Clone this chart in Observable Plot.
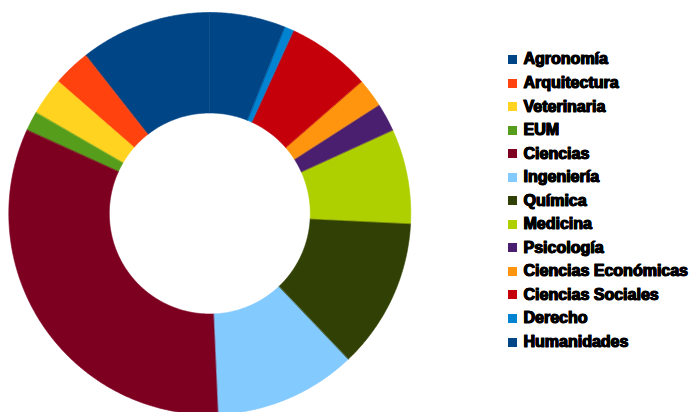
<!DOCTYPE html>
<html>
<head>
<meta charset="utf-8">
<script src="https://cdn.jsdelivr.net/npm/d3@7"></script>
<script src="https://cdn.jsdelivr.net/npm/@observablehq/plot@0.6"></script>
<style>
  html, body { margin: 0; padding: 0; background: #fff; }
  #wrap { position: relative; width: 691px; height: 412px; overflow: hidden; }
  #wrap > svg { position: absolute; left: 0; top: 0; }
  #legend { position: absolute; left: 508px; top: 47.7px; }
  #legend .lg-swatches { margin: 0 !important; font-family: "Liberation Sans", Arial, sans-serif !important; }
  #legend .lg-swatch { height: 23.55px !important; padding: 0 !important; margin: 0 !important; display: flex !important; align-items: center !important; }
  #legend .lg-swatch > svg { margin-right: 6.5px !important; }
  #legend .lg-swatch-label { font-family: "Liberation Sans", Arial, sans-serif !important; font-weight: bold !important; font-size: 16px !important; letter-spacing: 0px; color: #000 !important; -webkit-text-stroke: 1px #000; text-shadow: 0.5px 0 0 #000, -0.3px 0 0 #000, 0 0.4px 0 #000; overflow: visible !important; }
</style>
</head>
<body>
<div id="wrap"></div>
<script>
// Categories (order as in the legend; slices run counter-clockwise from 12 o'clock)
const categories = ["Agronomía", "Arquitectura", "Veterinaria", "EUM", "Ciencias", "Ingeniería", "Química", "Medicina", "Psicología", "Ciencias Económicas", "Ciencias Sociales", "Derecho", "Humanidades"];
// Share of each faculty (percent)
const values = [10.6, 3.0, 3.03, 1.56, 32.5, 11.4, 12.1, 7.6, 2.28, 2.3, 6.78, 0.75, 6.06];
const colors = ["#004586", "#ff420e", "#ffd320", "#579d1c", "#7e0021", "#83caff", "#314004", "#aecf00", "#4b1f6f", "#ff950e", "#c5000b", "#0084d1", "#004586"];
const innerRatio = 0.5;

// Build slice outlines (outer arc then inner arc) in unit-circle data space
const total = d3.sum(values);
const rows = [];
let acc = 0;
categories.forEach((cat, i) => {
  const a0 = acc / total * 2 * Math.PI;
  acc += values[i];
  const a1 = acc / total * 2 * Math.PI;
  const n = Math.max(2, Math.ceil((a1 - a0) / (Math.PI / 360)));
  for (let k = 0; k <= n; k++) {
    const t = a0 + (a1 - a0) * k / n;
    rows.push({cat, x: -Math.sin(t), y: Math.cos(t)});
  }
  for (let k = n; k >= 0; k--) {
    const t = a0 + (a1 - a0) * k / n;
    rows.push({cat, x: -innerRatio * Math.sin(t), y: innerRatio * Math.cos(t)});
  }
});

const colorScale = {domain: categories, range: colors, type: "ordinal"};

const chart = Plot.plot({
  width: 691,
  height: 412,
  x: {domain: [-1, 1], range: [8.3, 410.3], axis: null},
  y: {domain: [-1, 1], range: [414, 12], axis: null},
  color: colorScale,
  marks: [
    Plot.line(rows, {x: "x", y: "y", z: "cat", fill: "cat", stroke: "cat", strokeWidth: 0.6, curve: "linear-closed"})
  ]
});

const wrap = document.getElementById("wrap");
wrap.appendChild(chart);

const legend = Plot.legend({
  color: colorScale,
  legend: "swatches",
  columns: 1,
  swatchSize: 9,
  className: "lg"
});
const legendDiv = document.createElement("div");
legendDiv.id = "legend";
legendDiv.appendChild(legend);
wrap.appendChild(legendDiv);
</script>
</body>
</html>
